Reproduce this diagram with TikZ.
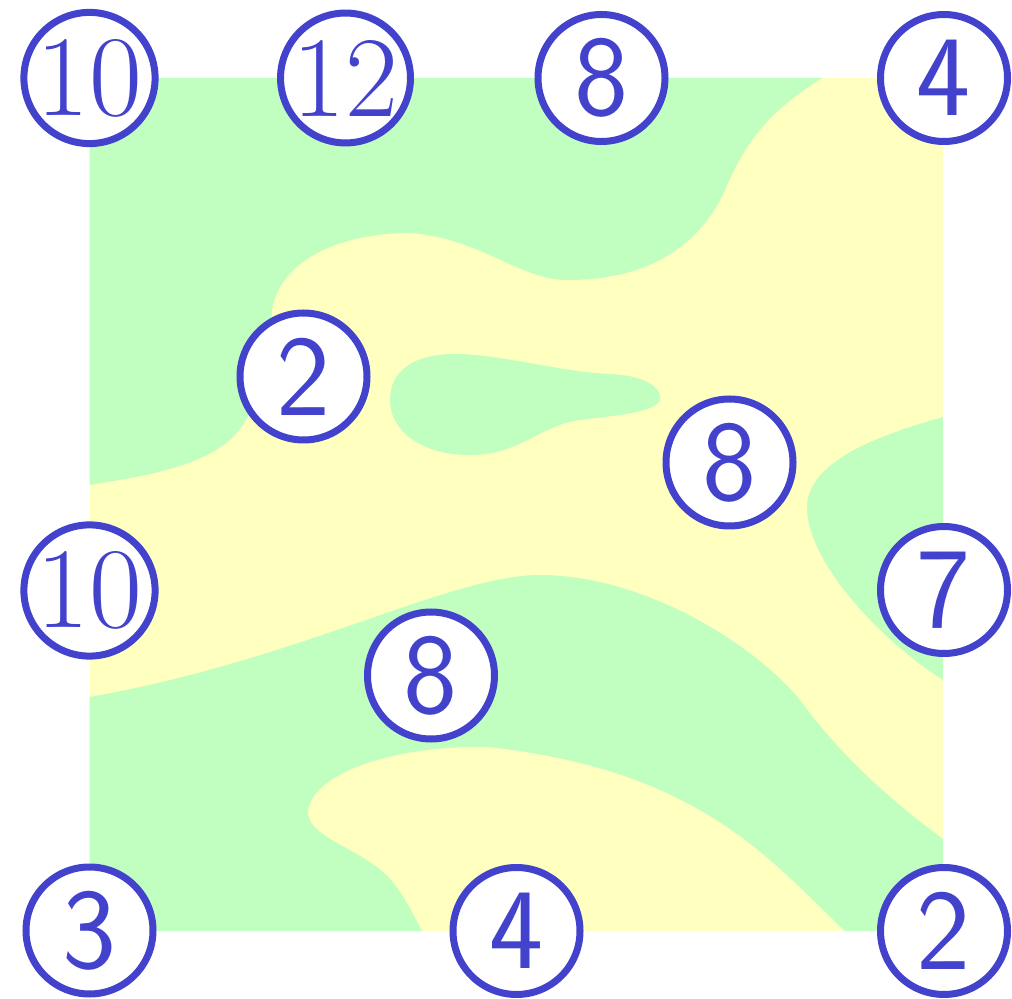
\documentclass[tikz,border=0pt]{standalone}
\definecolor{cgreen}{RGB}{192,255,192}
\definecolor{cyellow}{RGB}{255,255,192}
\definecolor{cblue}{RGB}{66,66,204}
\begin{document}
\begin{tikzpicture}[x=0.5pt,y=-0.5pt,
  val/.style={circle,draw=cblue,line width=3.5pt,fill=white,minimum size=63.5pt,inner sep=0pt,text=cblue,font=\fontsize{57.5}{60}\selectfont\sffamily},
  valr/.style={val,font=\fontsize{57.5}{60}\selectfont\rmfamily},
  greenreg/.style={fill=cgreen,draw=none}]
\useasboundingbox (0,0) rectangle (1012,999);
% background square (yellow level)
\fill[cyellow] (89.5,78) rectangle (943,931);
% green region top-left
\path[greenreg] (89.5,78) -- (822,78)
  .. controls (780,105) and (750,130) .. (725,190)
  .. controls (700,245) and (650,280) .. (567,280)
  .. controls (520,280) and (480,238) .. (410,233)
  .. controls (340,233) and (280,260) .. (272,310)
  .. controls (268,360) and (262,410) .. (230,440)
  .. controls (195,470) and (130,478) .. (89.5,485) -- cycle;
% green island
\path[greenreg] (390,400)
  .. controls (390,370) and (415,354) .. (455,354)
  .. controls (500,354) and (560,372) .. (610,374)
  .. controls (650,376) and (662,390) .. (660,400)
  .. controls (655,412) and (620,415) .. (580,420)
  .. controls (540,425) and (520,455) .. (470,455)
  .. controls (420,455) and (390,430) .. (390,400) -- cycle;
% green region right
\path[greenreg] (943,417)
  .. controls (880,435) and (810,460) .. (807,505)
  .. controls (805,560) and (880,640) .. (943,680) -- cycle;
% green region bottom
\path[greenreg] (89.5,697)
  .. controls (300,660) and (450,575) .. (540,575)
  .. controls (640,575) and (750,640) .. (800,700)
  .. controls (840,755) and (890,800) .. (943,839)
  -- (943,931) -- (845,931)
  .. controls (770,860) and (700,770) .. (488,747)
  .. controls (390,745) and (310,775) .. (308,812)
  .. controls (308,840) and (370,850) .. (395,885)
  .. controls (410,905) and (418,925) .. (422,931)
  -- (89.5,931) -- cycle;
% value nodes
\node[valr] (a1) at (89.5,78) {10};
\node[valr] (a2) at (345.5,78) {12};
\node[val] (a3) at (601.5,78) {8};
\node[val] (a4) at (944,78) {4};
\node[val] (b1) at (303.5,376.5) {2};
\node[val] (b2) at (729.5,462.5) {8};
\node[valr] (c1) at (89.5,590.5) {10};
\node[val] (c2) at (944,590) {7};
\node[val] (c3) at (431,675.5) {8};
\node[val] (d1) at (89.5,930.5) {3};
\node[val] (d2) at (516.5,931) {4};
\node[val] (d3) at (944,931) {2};
\end{tikzpicture}
\end{document}
